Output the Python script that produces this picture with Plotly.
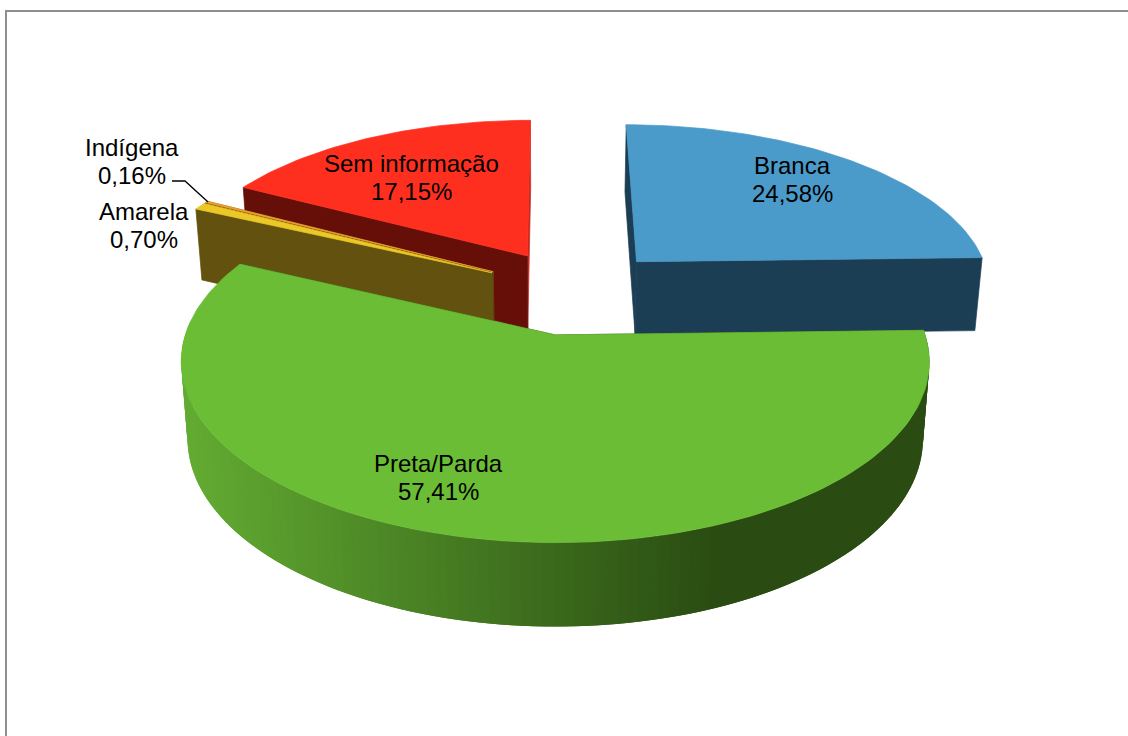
import math
import plotly.graph_objects as go

categories = ["Branca", "Preta/Parda", "Amarela", "Indígena", "Sem informação"]
values = [24.58, 57.41, 0.70, 0.16, 17.15]
value_labels = ["24,58%", "57,41%", "0,70%", "0,16%", "17,15%"]
top_colors = ["#4a9aca", "#6bbd35", "#ecc826", "#f0a030", "#ff2f20"]
cut_colors = ["#1c3e55", "#2a4c12", "#63520f", "#63420f", "#660f08"]
far_cut_colors = ["#1c3e55", "#2a4c12", "#63520f", "#63420f", "#c92a1f"]
wall_left = ["#3f83ad", "#62ab32", "#c8a418", "#c08018", "#c02018"]
wall_right = ["#1c3e55", "#2a4c12", "#63520f", "#63420f", "#660f08"]

W, H = 1128, 736
CX, CY = 552, 335
K, A, B = 0.148, 370, 177
DROP, DROP_K, BOTTOM_SCALE = 76.2, 0.0926, 0.983
EXPLODE = 0.26
BASE = (0.062, 0.255)


def top(X, Y):
    d = 1 + K * Y
    return CX + A * X / d, CY - B * Y / d


def bottom(X, Y):
    x, y = top(X, Y)
    return CX + (x - CX) * BOTTOM_SCALE, y + DROP / (1 + DROP_K * Y)


def poly(fig, pts, color, stroke=0.7):
    fig.add_trace(go.Scatter(
        x=[p[0] for p in pts] + [pts[0][0]],
        y=[p[1] for p in pts] + [pts[0][1]],
        mode="lines", fill="toself", fillcolor=color,
        line=dict(color=color, width=stroke), hoverinfo="skip", showlegend=False))


def mix(c1, c2, t):
    a = [int(c1[i:i + 2], 16) for i in (1, 3, 5)]
    b = [int(c2[i:i + 2], 16) for i in (1, 3, 5)]
    return "rgb(%d,%d,%d)" % tuple(round(u + (v - u) * t) for u, v in zip(a, b))


total = sum(values)
slices = []
cum = 0.0
for i, v in enumerate(values):
    a0 = cum / total * 2 * math.pi
    cum += v
    a1 = cum / total * 2 * math.pi
    mid = (a0 + a1) / 2
    ox = BASE[0] + EXPLODE * math.sin(mid)
    oy = BASE[1] + EXPLODE * math.cos(mid)
    slices.append((i, a0, a1, ox, oy))

fig = go.Figure()
order = [4, 0, 3, 2, 1]
for i, a0, a1, ox, oy in [slices[j] for j in order]:
    n = max(4, int((a1 - a0) * 40))
    angs = [a0 + (a1 - a0) * t / n for t in range(n + 1)]
    rim = [(ox + math.sin(t), oy + math.cos(t)) for t in angs]
    apex = (ox, oy)
    # side cut faces: the far one first, then the one facing the viewer
    for edge, col in ((rim[-1], far_cut_colors[i]), (rim[0], cut_colors[i])):
        poly(fig, [top(*apex), top(*edge), bottom(*edge), bottom(*apex)], col)
    # outer wall, in overlapping bands so no seams show through the gradient
    xmin, xmax = 190, 720
    for k in range(n):
        p = rim[k]
        if math.cos(angs[k]) < 0.05:
            q = rim[min(k + 2, n)]
            xa = top(*p)[0]
            t = min(1, max(0, (xa - xmin) / (xmax - xmin)))
            poly(fig, [top(*p), top(*q), bottom(*q), bottom(*p)],
                 mix(wall_left[i], wall_right[i], t), stroke=0)
    # top face
    poly(fig, [top(*apex)] + [top(*p) for p in rim], top_colors[i])

# leader line for Indígena
fig.add_trace(go.Scatter(x=[172, 185, 208], y=[181, 181, 202], mode="lines",
                         line=dict(color="black", width=1.3),
                         hoverinfo="skip", showlegend=False))

label_pos = [(792, 165), (438, 463), (144, 211), (132, 147), (411, 163)]
LINE_GAP = 28
annotations = []
for (x, y), c, v in zip(label_pos, categories, value_labels):
    for text, yy in ((c, y), (v, y + LINE_GAP)):
        annotations.append(dict(
            x=x, y=yy, xref="x", yref="y", text=text, showarrow=False,
            font=dict(family="Liberation Sans", size=24, color="black")))

fig.update_layout(
    width=W, height=H, margin=dict(l=0, r=0, t=0, b=0, autoexpand=False),
    paper_bgcolor="white", plot_bgcolor="white", showlegend=False,
    xaxis=dict(range=[0, W], visible=False, fixedrange=True),
    yaxis=dict(range=[H, 0], visible=False, fixedrange=True),
    annotations=annotations,
    shapes=[dict(type="rect", x0=6, y0=11, x1=W + 10, y1=H + 10, xref="x", yref="y",
                 line=dict(color="#8f8f8f", width=2), layer="below")],
)
fig.write_html("out.html", config={"displayModeBar": False},
               post_script="document.body.style.margin='0';document.documentElement.style.overflow='hidden';")
